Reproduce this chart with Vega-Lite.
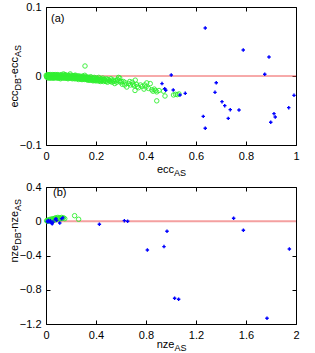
{
"$schema": "https://vega.github.io/schema/vega-lite/v6.json",
"padding": {"left": 7, "top": 0, "right": 0, "bottom": 0},
"spacing": 2,
"config": {
  "font": "Liberation Sans",
  "view": {"stroke": "black", "strokeWidth": 1},
  "axis": {"grid": false, "domain": false, "labelFont": "Liberation Sans", "labelFontSize": 11, "labelColor": "black", "titleFont": "Liberation Sans", "titleFontSize": 11, "titleFontWeight": "normal", "titleColor": "black", "tickColor": "black", "tickSize": -4, "labelFlush": false, "labelOverlap": false, "titleAlign": "left", "titleBaseline": "alphabetic", "titleAnchor": null, "labelExpr": "datum.value == 0 ? '0' : (abs(datum.value) == 1 || abs(datum.value) == 2 ? format(datum.value, 'd') : format(datum.value, '.1f'))"}
},
"datasets": {
  "greenA": [
{"x":0.002,"y":-0.001},{"x":0.005,"y":0.001},{"x":0.006,"y":-0.002},{"x":0.008,"y":0.000},{"x":0.010,"y":-0.001},{"x":0.012,"y":0.002},{"x":0.013,"y":-0.002},{"x":0.015,"y":0.000},{"x":0.017,"y":-0.001},{"x":0.019,"y":0.001},
{"x":0.021,"y":-0.002},{"x":0.023,"y":0.000},{"x":0.025,"y":-0.001},{"x":0.027,"y":0.002},{"x":0.029,"y":-0.003},{"x":0.031,"y":0.000},{"x":0.033,"y":-0.001},{"x":0.035,"y":0.001},{"x":0.037,"y":-0.002},{"x":0.040,"y":0.000},
{"x":0.042,"y":-0.001},{"x":0.044,"y":-0.003},{"x":0.046,"y":0.001},{"x":0.048,"y":-0.002},{"x":0.050,"y":0.000},{"x":0.053,"y":-0.001},{"x":0.055,"y":-0.003},{"x":0.057,"y":0.001},{"x":0.060,"y":-0.002},{"x":0.062,"y":0.000},
{"x":0.064,"y":-0.001},{"x":0.067,"y":-0.003},{"x":0.069,"y":0.001},{"x":0.071,"y":-0.002},{"x":0.074,"y":-0.001},{"x":0.076,"y":0.002},{"x":0.078,"y":-0.003},{"x":0.080,"y":-0.001},{"x":0.083,"y":0.000},{"x":0.085,"y":-0.002},
{"x":0.088,"y":-0.004},{"x":0.090,"y":0.000},{"x":0.092,"y":-0.002},{"x":0.095,"y":-0.001},{"x":0.097,"y":0.003},{"x":0.100,"y":-0.003},{"x":0.103,"y":-0.001},{"x":0.105,"y":-0.004},{"x":0.108,"y":0.000},{"x":0.110,"y":-0.002},
{"x":0.113,"y":-0.003},{"x":0.115,"y":0.001},{"x":0.118,"y":-0.002},{"x":0.120,"y":-0.004},{"x":0.123,"y":-0.001},{"x":0.125,"y":-0.003},{"x":0.128,"y":0.000},{"x":0.130,"y":-0.005},{"x":0.133,"y":-0.002},{"x":0.135,"y":-0.003},
{"x":0.138,"y":-0.001},{"x":0.140,"y":-0.004},{"x":0.143,"y":-0.002},{"x":0.146,"y":-0.005},{"x":0.148,"y":-0.001},{"x":0.150,"y":-0.003},{"x":0.153,"y":-0.004},{"x":0.155,"y":0.001},{"x":0.156,"y":0.0145},{"x":0.158,"y":-0.002},
{"x":0.160,"y":-0.005},{"x":0.163,"y":-0.003},{"x":0.166,"y":-0.006},{"x":0.168,"y":-0.002},{"x":0.171,"y":-0.004},{"x":0.174,"y":-0.003},{"x":0.176,"y":-0.006},{"x":0.179,"y":-0.001},{"x":0.182,"y":-0.005},{"x":0.185,"y":-0.003},
{"x":0.188,"y":-0.007},{"x":0.190,"y":-0.004},{"x":0.193,"y":-0.002},{"x":0.196,"y":-0.006},{"x":0.199,"y":-0.005},{"x":0.202,"y":-0.003},{"x":0.205,"y":-0.007},{"x":0.208,"y":-0.005},{"x":0.211,"y":-0.002},{"x":0.214,"y":-0.006},
{"x":0.217,"y":-0.008},{"x":0.220,"y":-0.004},{"x":0.224,"y":-0.006},{"x":0.227,"y":-0.003},{"x":0.230,"y":-0.008},{"x":0.234,"y":-0.005},{"x":0.238,"y":-0.007},{"x":0.242,"y":-0.004},{"x":0.246,"y":-0.009},{"x":0.250,"y":-0.006},
{"x":0.255,"y":-0.007},{"x":0.260,"y":-0.004},{"x":0.265,"y":-0.009},{"x":0.270,"y":-0.006},{"x":0.275,"y":-0.011},{"x":0.280,"y":-0.007},{"x":0.286,"y":-0.005},{"x":0.290,"y":-0.002},{"x":0.295,"y":-0.003},{"x":0.298,"y":-0.009},
{"x":0.305,"y":-0.012},{"x":0.310,"y":-0.008},{"x":0.318,"y":-0.010},{"x":0.323,"y":-0.016},{"x":0.330,"y":-0.011},{"x":0.338,"y":-0.013},{"x":0.345,"y":-0.009},{"x":0.352,"y":-0.014},{"x":0.356,"y":-0.021},{"x":0.357,"y":-0.006},
{"x":0.362,"y":-0.012},{"x":0.370,"y":-0.017},{"x":0.378,"y":-0.013},{"x":0.385,"y":-0.015},{"x":0.392,"y":-0.019},{"x":0.400,"y":-0.016},{"x":0.403,"y":-0.010},{"x":0.410,"y":-0.018},{"x":0.417,"y":-0.011},{"x":0.423,"y":-0.020},
{"x":0.428,"y":-0.022},{"x":0.433,"y":-0.019},{"x":0.438,"y":-0.021},{"x":0.443,"y":-0.023},{"x":0.443,"y":-0.036},{"x":0.476,"y":-0.029},{"x":0.510,"y":-0.0275},{"x":0.518,"y":-0.0265},{"x":0.525,"y":-0.027},{"x":0.532,"y":-0.026},
{"x":0.001,"y":0.001},{"x":0.004,"y":-0.002},{"x":0.007,"y":0.002},{"x":0.009,"y":-0.003},{"x":0.011,"y":0.0},{"x":0.014,"y":0.001},{"x":0.016,"y":-0.003},{"x":0.018,"y":0.002},{"x":0.020,"y":0.0},{"x":0.022,"y":-0.003},
{"x":0.024,"y":0.001},{"x":0.026,"y":-0.002},{"x":0.028,"y":0.0},{"x":0.030,"y":-0.002},{"x":0.032,"y":0.002},{"x":0.034,"y":-0.003},{"x":0.036,"y":0.0},{"x":0.038,"y":-0.001},{"x":0.039,"y":0.002},{"x":0.041,"y":-0.002},
{"x":0.043,"y":0.001},{"x":0.045,"y":-0.001},{"x":0.047,"y":0.002},{"x":0.049,"y":-0.003},{"x":0.052,"y":0.001},{"x":0.054,"y":-0.002},{"x":0.056,"y":0.0},{"x":0.058,"y":-0.004},{"x":0.061,"y":0.002},{"x":0.063,"y":-0.002},
{"x":0.066,"y":0.0},{"x":0.068,"y":-0.002},{"x":0.070,"y":0.003},{"x":0.073,"y":-0.003},{"x":0.075,"y":0.0},{"x":0.077,"y":-0.002},{"x":0.079,"y":0.001},{"x":0.082,"y":-0.003},{"x":0.084,"y":0.001},{"x":0.087,"y":-0.001},
{"x":0.089,"y":-0.003},{"x":0.091,"y":0.001},{"x":0.094,"y":-0.003},{"x":0.096,"y":-0.001},{"x":0.099,"y":0.001},{"x":0.101,"y":-0.002},{"x":0.104,"y":0.0},{"x":0.107,"y":-0.003},{"x":0.109,"y":-0.001},{"x":0.112,"y":0.0},
{"x":0.114,"y":-0.004},{"x":0.117,"y":-0.001},{"x":0.119,"y":0.001},{"x":0.122,"y":-0.003},{"x":0.124,"y":-0.002},{"x":0.127,"y":-0.004},{"x":0.129,"y":-0.001},{"x":0.132,"y":-0.003},{"x":0.134,"y":0.0},{"x":0.137,"y":-0.004},
{"x":0.139,"y":-0.002},{"x":0.142,"y":-0.005},{"x":0.145,"y":-0.003},{"x":0.147,"y":0.0},{"x":0.151,"y":-0.002},{"x":0.154,"y":-0.005},{"x":0.157,"y":-0.003},{"x":0.161,"y":-0.001},{"x":0.164,"y":-0.004},{"x":0.167,"y":-0.005},
{"x":0.170,"y":-0.002},{"x":0.173,"y":-0.006},{"x":0.177,"y":-0.004},{"x":0.180,"y":-0.003},{"x":0.184,"y":-0.006},{"x":0.187,"y":-0.004},{"x":0.191,"y":-0.006},{"x":0.195,"y":-0.003},{"x":0.198,"y":-0.007},{"x":0.203,"y":-0.005},
{"x":0.207,"y":-0.004},{"x":0.212,"y":-0.007},{"x":0.216,"y":-0.005},{"x":0.222,"y":-0.007},{"x":0.228,"y":-0.005},{"x":0.232,"y":-0.006},{"x":0.240,"y":-0.008},{"x":0.248,"y":-0.005},{"x":0.257,"y":-0.008},{"x":0.263,"y":-0.006},
{"x":0.272,"y":-0.008},{"x":0.283,"y":-0.009},{"x":0.292,"y":-0.007},{"x":0.302,"y":-0.008},{"x":0.315,"y":-0.013},{"x":0.335,"y":-0.008},{"x":0.348,"y":-0.012},{"x":0.366,"y":-0.015},{"x":0.395,"y":-0.013},{"x":0.452,"y":-0.021},
{"x":0.470,"y":-0.022}
  ],
  "blueA": [
{"x":0.637,"y":0.0696},{"x":0.789,"y":0.0377},{"x":0.892,"y":0.0275},{"x":0.875,"y":0.0025},{"x":0.501,"y":0.0014},{"x":0.681,"y":-0.0097},{"x":0.464,"y":-0.011},{"x":0.475,"y":-0.0184},{"x":0.479,"y":-0.0207},{"x":0.509,"y":-0.0203},
{"x":0.676,"y":-0.0237},{"x":0.557,"y":-0.0251},{"x":0.536,"y":-0.0275},{"x":0.992,"y":-0.028},{"x":0.704,"y":-0.0372},{"x":0.715,"y":-0.043},{"x":0.737,"y":-0.0488},{"x":0.772,"y":-0.0493},{"x":0.971,"y":-0.0459},{"x":0.912,"y":-0.0546},
{"x":0.917,"y":-0.0594},{"x":0.629,"y":-0.0585},{"x":0.729,"y":-0.0614},{"x":0.899,"y":-0.067},{"x":0.637,"y":-0.0758}
  ],
  "greenB": [
{"x":0.005,"y":0.005},{"x":0.01,"y":0.01},{"x":0.015,"y":0.0},{"x":0.02,"y":0.015},{"x":0.025,"y":0.005},{"x":0.03,"y":0.02},{"x":0.035,"y":0.01},{"x":0.04,"y":0.025},{"x":0.045,"y":0.0},{"x":0.05,"y":0.015},
{"x":0.055,"y":0.03},{"x":0.06,"y":0.02},{"x":0.065,"y":0.01},{"x":0.07,"y":0.035},{"x":0.075,"y":0.025},{"x":0.08,"y":0.04},{"x":0.09,"y":0.03},{"x":0.095,"y":0.045},{"x":0.1,"y":0.02},{"x":0.105,"y":0.035},
{"x":0.11,"y":0.04},{"x":0.12,"y":0.03},{"x":0.125,"y":0.045},{"x":0.13,"y":0.035},{"x":0.14,"y":0.04},{"x":0.15,"y":0.03},{"x":0.229,"y":0.065},{"x":0.261,"y":0.023}
  ],
  "blueB": [
{"x":0.01,"y":0.0},{"x":0.015,"y":-0.01},{"x":0.02,"y":0.01},{"x":0.03,"y":-0.005},{"x":0.035,"y":0.005},{"x":0.045,"y":-0.02},{"x":0.05,"y":-0.03},{"x":0.055,"y":-0.01},{"x":0.075,"y":0.02},{"x":0.08,"y":0.03},
{"x":0.085,"y":0.01},{"x":0.11,"y":-0.02},{"x":0.125,"y":0.03},{"x":0.135,"y":0.04},{"x":0.427,"y":-0.035},{"x":0.627,"y":0.007},{"x":0.653,"y":0.0},{"x":0.811,"y":-0.335},{"x":0.944,"y":-0.296},{"x":0.968,"y":-0.117},
{"x":1.029,"y":-0.9},{"x":1.061,"y":-0.911},{"x":1.501,"y":0.035},{"x":1.579,"y":-0.105},{"x":1.768,"y":-1.133},{"x":1.947,"y":-0.324}
  ]
},
"vconcat": [
 {
  "width": 250, "height": 138,
  "resolve": {"axis": {"x": "independent", "y": "independent"}},
  "layer": [
   {
    "data": {"values": [{}]},
    "mark": {"type": "rule", "color": "#ee5555", "strokeWidth": 1},
    "encoding": {"y": {"datum": 0, "type": "quantitative", "scale": {"domain": [-0.1, 0.1], "nice": false, "zero": false},
      "axis": {"orient": "right", "values": [-0.1, 0, 0.1], "labels": false, "title": "AS", "titleFontSize": 9, "titleAngle": 270, "titleX": -276, "titleY": 49.6}}}
   },
   {
    "data": {"name": "greenA"},
    "mark": {"type": "point", "shape": "circle", "filled": false, "color": "#30f030", "size": 20, "strokeWidth": 1, "opacity": 0.9},
    "encoding": {
      "x": {"field": "x", "type": "quantitative", "scale": {"domain": [0, 1], "nice": false, "zero": false},
        "axis": {"orient": "bottom", "values": [0, 0.2, 0.4, 0.6, 0.8, 1], "labelPadding": 9, "title": "ecc", "titleX": 110.4, "titleY": 27}},
      "y": {"field": "y", "type": "quantitative", "scale": {"domain": [-0.1, 0.1], "nice": false, "zero": false},
        "axis": {"orient": "left", "values": [-0.1, 0, 0.1], "labelPadding": 9, "title": "ecc", "titleAngle": 270, "titleX": -29, "titleY": 100}}
    }
   },
   {
    "data": {"name": "blueA"},
    "mark": {"type": "point", "shape": "cross", "filled": true, "color": "#0000ff", "size": 12, "opacity": 1},
    "encoding": {
      "x": {"field": "x", "type": "quantitative", "scale": {"domain": [0, 1], "nice": false, "zero": false},
        "axis": {"orient": "bottom", "labels": false, "ticks": false, "title": "AS", "titleFontSize": 9, "titleX": 127.5, "titleY": 30}},
      "y": {"field": "y", "type": "quantitative", "scale": {"domain": [-0.1, 0.1], "nice": false, "zero": false},
        "axis": {"orient": "left", "labels": false, "ticks": false, "title": "DB", "titleFontSize": 9, "titleAngle": 270, "titleX": -26, "titleY": 82.9}}
    }
   },
   {
    "data": {"values": [{}]},
    "mark": {"type": "text", "text": "(a)", "align": "left", "baseline": "middle", "fontSize": 11, "font": "Liberation Sans", "color": "black"},
    "encoding": {
      "x": {"datum": 0.02, "type": "quantitative", "scale": {"domain": [0, 1], "nice": false, "zero": false},
        "axis": {"orient": "top", "values": [0, 0.2, 0.4, 0.6, 0.8, 1], "labels": false, "title": "-ecc", "titleAngle": 270, "titleX": -29, "titleY": 70.4}},
      "y": {"datum": 0.083, "type": "quantitative", "scale": {"domain": [-0.1, 0.1], "nice": false, "zero": false}, "axis": null}
    }
   }
  ]
 },
 {
  "width": 250, "height": 137,
  "resolve": {"axis": {"x": "independent", "y": "independent"}},
  "layer": [
   {
    "data": {"values": [{}]},
    "mark": {"type": "rule", "color": "#f4a0a0", "strokeWidth": 2},
    "encoding": {"y": {"datum": 0, "type": "quantitative", "scale": {"domain": [-1.2, 0.4], "nice": false, "zero": false},
      "axis": {"orient": "right", "values": [-1.2, -0.8, -0.4, 0, 0.4], "labels": false, "title": "AS", "titleFontSize": 9, "titleAngle": 270, "titleX": -276, "titleY": 23.4}}}
   },
   {
    "data": {"name": "greenB"},
    "mark": {"type": "point", "shape": "circle", "filled": false, "color": "#30f030", "size": 20, "strokeWidth": 1, "opacity": 0.9},
    "encoding": {
      "x": {"field": "x", "type": "quantitative", "scale": {"domain": [0, 2], "nice": false, "zero": false},
        "axis": {"orient": "bottom", "values": [0, 0.4, 0.8, 1.2, 1.6, 2], "labelPadding": 9, "title": "nze", "titleX": 110.2, "titleY": 23}},
      "y": {"field": "y", "type": "quantitative", "scale": {"domain": [-1.2, 0.4], "nice": false, "zero": false},
        "axis": {"orient": "left", "values": [-1.2, -0.8, -0.4, 0, 0.4], "labelPadding": 9, "title": "nze", "titleAngle": 270, "titleX": -29, "titleY": 75}}
    }
   },
   {
    "data": {"name": "blueB"},
    "mark": {"type": "point", "shape": "cross", "filled": true, "color": "#0000ff", "size": 12, "opacity": 1},
    "encoding": {
      "x": {"field": "x", "type": "quantitative", "scale": {"domain": [0, 2], "nice": false, "zero": false},
        "axis": {"orient": "bottom", "labels": false, "ticks": false, "title": "AS", "titleFontSize": 9, "titleX": 127.9, "titleY": 26}},
      "y": {"field": "y", "type": "quantitative", "scale": {"domain": [-1.2, 0.4], "nice": false, "zero": false},
        "axis": {"orient": "left", "labels": false, "ticks": false, "title": "DB", "titleFontSize": 9, "titleAngle": 270, "titleX": -26, "titleY": 57.3}}
    }
   },
   {
    "data": {"values": [{}]},
    "mark": {"type": "text", "text": "(b)", "align": "left", "baseline": "middle", "fontSize": 11, "font": "Liberation Sans", "color": "black"},
    "encoding": {
      "x": {"datum": 0.056, "type": "quantitative", "scale": {"domain": [0, 2], "nice": false, "zero": false},
        "axis": {"orient": "top", "values": [0, 0.4, 0.8, 1.2, 1.6, 2], "labels": false, "title": "-nze", "titleAngle": 270, "titleX": -29, "titleY": 44.8}},
      "y": {"datum": 0.325, "type": "quantitative", "scale": {"domain": [-1.2, 0.4], "nice": false, "zero": false}, "axis": null}
    }
   }
  ]
 }
]
}
